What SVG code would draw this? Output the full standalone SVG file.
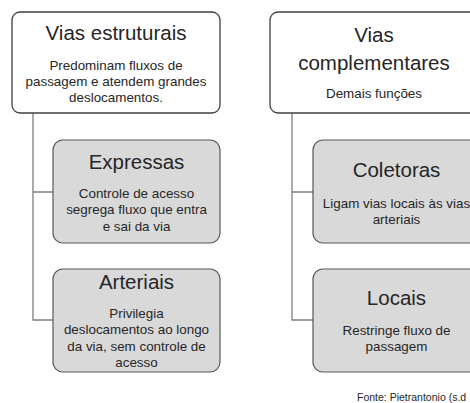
<svg xmlns="http://www.w3.org/2000/svg" width="470" height="403" viewBox="0 0 470 403">
<style>
.top{fill:#ffffff;stroke:#3f3f3f;stroke-width:1.3}
.sub{fill:#d9d9d9;stroke:#595959;stroke-width:1.2}
.ttl{font-family:"Liberation Sans",Arial,sans-serif;font-size:20.5px;fill:#262626;text-anchor:middle}
.txt{font-family:"Liberation Sans",Arial,sans-serif;font-size:13.4px;fill:#262626;text-anchor:middle}
.src{font-family:"Liberation Sans",Arial,sans-serif;font-size:10.5px;fill:#262626}
.con{fill:none;stroke:#7f7f7f;stroke-width:1.3}
</style>
<rect width="470" height="403" fill="#ffffff"/>
<g id="connectors">
<path class="con" d="M33 113V320H53M33 192H53"/>
<path class="con" d="M292 113V320H313M292 192H313"/>
</g>
<g id="vias-estruturais">
<rect class="top" x="12" y="12" width="208" height="101" rx="8"/>
<text class="ttl" x="116" y="40">Vias estruturais</text>
<text class="txt" x="116" y="69.5">Predominam fluxos de</text>
<text class="txt" x="116" y="85.5">passagem e atendem grandes</text>
<text class="txt" x="116" y="101.5">deslocamentos.</text>
</g>
<g id="expressas">
<rect class="sub" x="53" y="140" width="167" height="103" rx="10"/>
<text class="ttl" x="136.5" y="169">Expressas</text>
<text class="txt" x="136.5" y="197.5">Controle de acesso</text>
<text class="txt" x="136.5" y="214">segrega fluxo que entra</text>
<text class="txt" x="136.5" y="230.5">e sai da via</text>
</g>
<g id="arteriais">
<rect class="sub" x="53" y="269" width="167" height="103" rx="10"/>
<text class="ttl" x="136.5" y="289">Arteriais</text>
<text class="txt" x="136.5" y="317.5">Privilegia</text>
<text class="txt" x="136.5" y="334">deslocamentos ao longo</text>
<text class="txt" x="136.5" y="350.5">da via, sem controle de</text>
<text class="txt" x="136.5" y="367">acesso</text>
</g>
<g id="vias-complementares">
<rect class="top" x="270" y="12" width="208" height="101" rx="8"/>
<text class="ttl" x="374" y="42">Vias</text>
<text class="ttl" x="374" y="70">complementares</text>
<text class="txt" x="374" y="97.5">Demais funções</text>
</g>
<g id="coletoras">
<rect class="sub" x="313" y="140" width="167" height="103" rx="10"/>
<text class="ttl" x="396.5" y="177">Coletoras</text>
<text class="txt" x="396.5" y="207.5">Ligam vias locais às vias</text>
<text class="txt" x="396.5" y="223.5">arteriais</text>
</g>
<g id="locais">
<rect class="sub" x="313" y="269" width="167" height="103" rx="10"/>
<text class="ttl" x="396.5" y="305">Locais</text>
<text class="txt" x="396.5" y="334.5">Restringe fluxo de</text>
<text class="txt" x="396.5" y="351">passagem</text>
</g>
<text class="src" x="357" y="401">Fonte: Pietrantonio (s.d</text>
</svg>
